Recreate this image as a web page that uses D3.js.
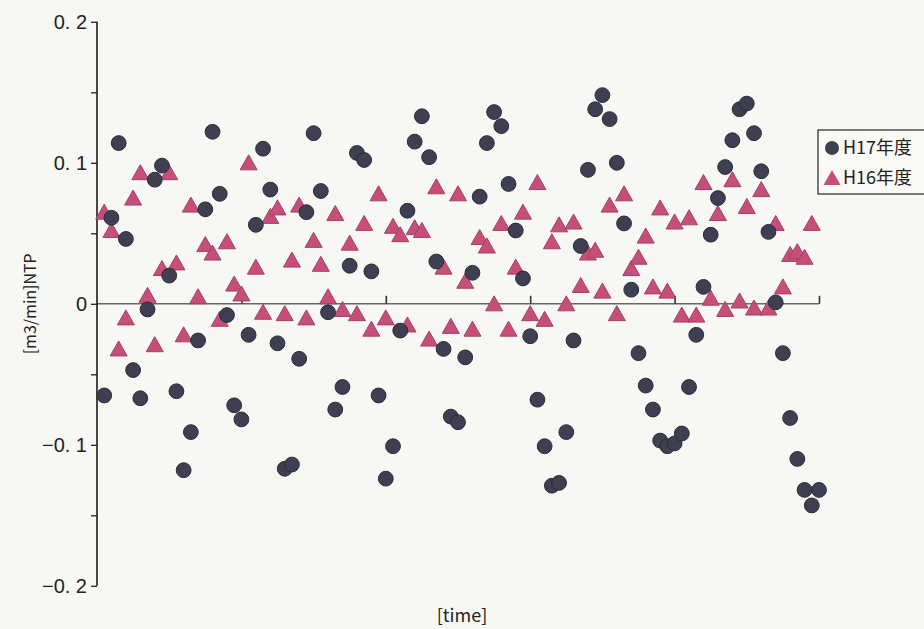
<!DOCTYPE html>
<html>
<head>
<meta charset="utf-8">
<script src="https://cdn.jsdelivr.net/npm/d3@7/dist/d3.min.js"></script>
<style>
  html, body { margin: 0; padding: 0; background: #f7f7f3; }
  svg { display: block; }
  text { font-family: "Noto Sans CJK JP", "DejaVu Sans", sans-serif; fill: #222; }
  .ytick { font-family: "Liberation Sans", Arial, sans-serif; }
</style>
</head>
<body>
<svg id="chart" width="924" height="629"></svg>
<script>
// H17 (circles): time index 1..100
const h17Values = [
  -0.065, 0.061, 0.114, 0.046, -0.047, -0.067, -0.004, 0.088, 0.098, 0.020,
  -0.062, -0.118, -0.091, -0.026, 0.067, 0.122, 0.078, -0.008, -0.072, -0.082,
  -0.022, 0.056, 0.110, 0.081, -0.028, -0.117, -0.114, -0.039, 0.065, 0.121,
  0.080, -0.006, -0.075, -0.059, 0.027, 0.107, 0.102, 0.023, -0.065, -0.124,
  -0.101, -0.019, 0.066, 0.115, 0.133, 0.104, 0.030, -0.032, -0.080, -0.084,
  -0.038, 0.022, 0.076, 0.114, 0.136, 0.126, 0.085, 0.052, 0.018, -0.023,
  -0.068, -0.101, -0.129, -0.127, -0.091, -0.026, 0.041, 0.095, 0.138, 0.148,
  0.131, 0.100, 0.057, 0.010, -0.035, -0.058, -0.075, -0.097, -0.101, -0.099,
  -0.092, -0.059, -0.022, 0.012, 0.049, 0.075, 0.097, 0.116, 0.138, 0.142,
  0.121, 0.094, 0.051, 0.001, -0.035, -0.081, -0.110, -0.132, -0.143, -0.132
];

// H16 (triangles): time index 1..99
const h16Values = [
  0.065, 0.052, -0.032, -0.010, 0.075, 0.093, 0.006, -0.029, 0.025, 0.093,
  0.029, -0.022, 0.070, 0.005, 0.042, 0.036, -0.011, 0.044, 0.014, 0.007,
  0.100, 0.026, -0.006, 0.062, 0.068, -0.007, 0.031, 0.070, -0.010, 0.045,
  0.028, 0.005, 0.064, -0.004, 0.043, -0.007, 0.057, -0.018, 0.078, -0.010,
  0.055, 0.049, -0.015, 0.054, 0.052, -0.025, 0.083, 0.026, -0.016, 0.078,
  0.016, -0.018, 0.047, 0.041, 0.000, 0.057, -0.018, 0.026, 0.065, -0.007,
  0.086, -0.011, 0.044, 0.056, 0.000, 0.058, 0.013, 0.036, 0.038, 0.009,
  0.070, -0.007, 0.078, 0.025, 0.033, 0.048, 0.012, 0.068, 0.009, 0.058,
  -0.008, 0.061, -0.008, 0.086, 0.004, 0.064, -0.004, 0.088, 0.002, 0.069,
  -0.003, 0.081, -0.003, 0.057, 0.012, 0.035, 0.037, 0.033, 0.057
];

const yTickValues = [0.2, 0.1, 0, -0.1, -0.2];
const yTickLabels = ["0. 2", "0. 1", "0", "\u22120. 1", "\u22120. 2"];
const yMinorTicks = [0.15, 0.05, -0.05, -0.15];
const xTickValues = [20, 40, 60, 80, 100];
const seriesNames = ["H17年度", "H16年度"];

const h17 = h17Values.map((v, i) => ({ t: i + 1, v }));
const h16 = h16Values.map((v, i) => ({ t: i + 1, v }));

const svg = d3.select("#chart");

const x = d3.scaleLinear().domain([0, 100]).range([97, 819]);
const y = d3.scaleLinear().domain([-0.2, 0.2]).range([585.8, 21.8]);

// Zero line with upward ticks every 20 time units
const xAxis = svg.append("g").attr("transform", `translate(0,${y(0)})`);
xAxis.call(d3.axisTop(x).tickValues(xTickValues).tickSize(8).tickFormat(""));
xAxis.select(".domain").attr("stroke", "#666").attr("stroke-width", 1.6)
  .attr("d", `M${x(0)},0H${x(100)}`);
xAxis.selectAll(".tick line").attr("stroke", "#333").attr("stroke-width", 1.6);

// Vertical value axis
const yAxis = svg.append("g").attr("transform", `translate(${x(0)},0)`);
yAxis.call(d3.axisLeft(y).tickValues(yTickValues.concat(yMinorTicks)).tickSize(6).tickFormat(""));
yAxis.select(".domain").attr("stroke", "#1a1a1a").attr("stroke-width", 1.6)
  .attr("d", `M0,${y(0.2)}V${y(-0.2)}`);
yAxis.selectAll(".tick line").attr("stroke", "#222").attr("stroke-width", 1.3);

svg.append("g").selectAll("text")
  .data(yTickValues)
  .join("text")
  .attr("class", "ytick")
  .attr("x", 87)
  .attr("y", d => y(d))
  .attr("dy", "0.36em")
  .attr("text-anchor", "end")
  .attr("font-size", 20)
  .text((d, i) => yTickLabels[i]);

// Axis titles
svg.append("text")
  .attr("transform", `translate(36,${y(0)}) rotate(-90)`)
  .attr("text-anchor", "middle")
  .attr("font-size", 16)
  .text("[m3/min]NTP");

svg.append("text")
  .attr("x", 462)
  .attr("y", 622)
  .attr("text-anchor", "middle")
  .attr("font-size", 18)
  .text("[time]");

// Triangle marker path centred on the point
const triPath = "M0,-8L8.5,7L-8.5,7Z";

// H16 triangles
svg.append("g").selectAll("path")
  .data(h16)
  .join("path")
  .attr("d", triPath)
  .attr("transform", d => `translate(${x(d.t)},${y(d.v)})`)
  .attr("fill", "#c64f7a")
  .attr("stroke", "#a63f64")
  .attr("stroke-width", 1);

// H17 circles
svg.append("g").selectAll("circle")
  .data(h17)
  .join("circle")
  .attr("cx", d => x(d.t))
  .attr("cy", d => y(d.v))
  .attr("r", 7.4)
  .attr("fill", "#3e4052")
  .attr("stroke", "#2a2b38")
  .attr("stroke-width", 1);

// Legend
const legend = svg.append("g");
legend.append("rect")
  .attr("x", 818).attr("y", 130)
  .attr("width", 120).attr("height", 64)
  .attr("fill", "#f9f9f6")
  .attr("stroke", "#222").attr("stroke-width", 1.2);
legend.append("circle")
  .attr("cx", 832).attr("cy", 148).attr("r", 7)
  .attr("fill", "#3e4052");
legend.append("path")
  .attr("d", triPath)
  .attr("transform", "translate(832,178)")
  .attr("fill", "#c64f7a");
legend.selectAll("text.lg")
  .data(seriesNames)
  .join("text")
  .attr("class", "lg")
  .attr("x", 843)
  .attr("y", (d, i) => 148 + i * 30)
  .attr("dy", "0.36em")
  .attr("font-size", 18)
  .text(d => d);
</script>
</body>
</html>
